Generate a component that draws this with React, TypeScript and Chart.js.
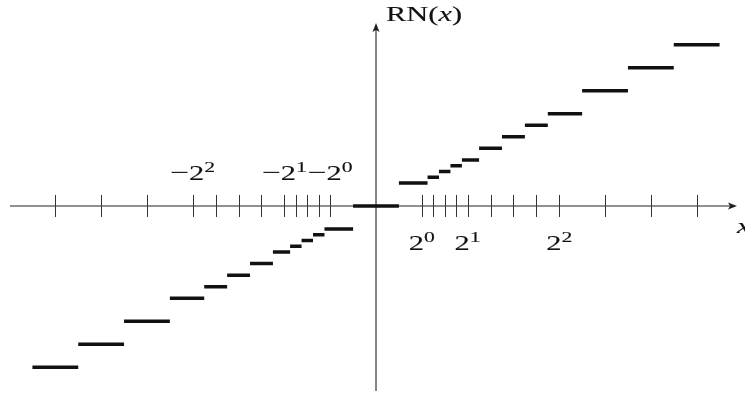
import { useEffect, useRef } from "react";
import { Chart, registerables } from "chart.js";

Chart.register(...registerables);

// Positive representable floating-point numbers (3-bit significand)
const positiveFloats = [1, 1.25, 1.5, 1.75, 2, 2.5, 3, 3.5, 4, 5, 6, 7];
// Round-to-nearest switching points between consecutive floats (0.5 = between 0 and 1)
const roundingBreaks = [0.5, 1.125, 1.375, 1.625, 1.875, 2.25, 2.75, 3.25, 3.75, 4.5, 5.5, 6.5, 7.5];
// Interval rounded to zero
const zeroInterval = [-0.5, 0.5];
// Exponents of labelled powers of two
const labelledExponents = [0, 1, 2];

const X_MIN = -8.208;
const X_MAX = 8.055;
const Y_MIN = -8.113;
const Y_MAX = 8.937;

const SX = 1.45; // horizontal stretch of the text, as in the reference
const SERIF = '"Liberation Serif", "DejaVu Serif", serif';

type Piece = { text: string; size: number; raise?: number; italic?: boolean };

function drawPieces(ctx: CanvasRenderingContext2D, pieces: Piece[], x: number, baseline: number, align: "center" | "left") {
  let total = 0;
  const widths: number[] = [];
  for (const p of pieces) {
    ctx.font = `${p.italic ? "italic " : ""}${p.size}px ${SERIF}`;
    const w = ctx.measureText(p.text).width;
    widths.push(w);
    total += w;
  }
  const start = align === "center" ? x - (total * SX) / 2 : x;
  ctx.save();
  ctx.translate(start, baseline);
  ctx.scale(SX, 1);
  ctx.fillStyle = "#111";
  ctx.strokeStyle = "#111";
  ctx.lineWidth = 0.12;
  ctx.textBaseline = "alphabetic";
  ctx.textAlign = "left";
  let cx = 0;
  pieces.forEach((p, i) => {
    ctx.font = `${p.italic ? "italic " : ""}${p.size}px ${SERIF}`;
    ctx.fillText(p.text, cx, -(p.raise || 0));
    ctx.strokeText(p.text, cx, -(p.raise || 0));
    cx += widths[i];
  });
  ctx.restore();
}

const axesPlugin = {
  id: "centredAxes",
  beforeDatasetsDraw(chart: any) {
    const { ctx, scales } = chart;
    const xs = scales.x;
    const ys = scales.y;
    const x0 = xs.getPixelForValue(0);
    const y0 = ys.getPixelForValue(0);
    ctx.save();
    ctx.strokeStyle = "#222";
    ctx.fillStyle = "#222";
    ctx.lineWidth = 1.1;
    // horizontal axis
    ctx.beginPath();
    ctx.moveTo(10, y0);
    ctx.lineTo(730, y0);
    ctx.stroke();
    ctx.beginPath();
    ctx.moveTo(737, y0);
    ctx.lineTo(728, y0 - 3.5);
    ctx.lineTo(730, y0);
    ctx.lineTo(728, y0 + 3.5);
    ctx.closePath();
    ctx.fill();
    // vertical axis
    ctx.beginPath();
    ctx.moveTo(x0, 391);
    ctx.lineTo(x0, 30);
    ctx.stroke();
    ctx.beginPath();
    ctx.moveTo(x0, 23);
    ctx.lineTo(x0 - 3.5, 32);
    ctx.lineTo(x0, 30);
    ctx.lineTo(x0 + 3.5, 32);
    ctx.closePath();
    ctx.fill();
    // tick marks at every representable number
    ctx.strokeStyle = "#333";
    ctx.lineWidth = 1;
    for (const v of positiveFloats) {
      for (const s of [1, -1]) {
        const px = Math.round(xs.getPixelForValue(s * v)) + 0.5;
        ctx.beginPath();
        ctx.moveTo(px, y0 - 11);
        ctx.lineTo(px, y0 + 11);
        ctx.stroke();
      }
    }
    ctx.restore();
  },
  afterDatasetsDraw(chart: any) {
    const { ctx, scales } = chart;
    const xs = scales.x;
    const ys = scales.y;
    const x0 = xs.getPixelForValue(0);
    const y0 = ys.getPixelForValue(0);
    for (const k of labelledExponents) {
      const v = Math.pow(2, k);
      drawPieces(
        ctx,
        [
          { text: "2", size: 21 },
          { text: String(k), size: 15, raise: 8 },
        ],
        xs.getPixelForValue(v),
        y0 + 44,
        "center"
      );
      drawPieces(
        ctx,
        [
          { text: "\u2212", size: 23 },
          { text: "2", size: 21 },
          { text: String(k), size: 15, raise: 8 },
        ],
        xs.getPixelForValue(-v),
        y0 - 26,
        "center"
      );
    }
    // axis names
    drawPieces(
      ctx,
      [
        { text: "RN(", size: 21 },
        { text: "x", size: 21, italic: true },
        { text: ")", size: 21 },
      ],
      x0 + 10,
      21,
      "left"
    );
    drawPieces(ctx, [{ text: "x", size: 21, italic: true }], 737, y0 + 27, "left");
  },
};

export default function App() {
  const ref = useRef<HTMLCanvasElement>(null);
  useEffect(() => {
    const pts: { x: number; y: number | null }[] = [];
    // negative steps (mirror), from far left to near zero
    for (let i = positiveFloats.length - 1; i >= 0; i--) {
      const v = -positiveFloats[i];
      pts.push({ x: -roundingBreaks[i + 1], y: v });
      pts.push({ x: -roundingBreaks[i], y: v });
      pts.push({ x: -roundingBreaks[i], y: null });
    }
    pts.push({ x: zeroInterval[0], y: 0 });
    pts.push({ x: zeroInterval[1], y: 0 });
    pts.push({ x: zeroInterval[1], y: null });
    positiveFloats.forEach((v, i) => {
      pts.push({ x: roundingBreaks[i], y: v });
      pts.push({ x: roundingBreaks[i + 1], y: v });
      pts.push({ x: roundingBreaks[i + 1], y: null });
    });

    const chart = new Chart(ref.current!, {
      type: "line",
      data: {
        datasets: [
          {
            data: pts as any,
            borderColor: "#111",
            borderWidth: 3.5,
            borderCapStyle: "butt",
            pointRadius: 0,
            spanGaps: false,
            fill: false,
            tension: 0,
          },
        ],
      },
      options: {
        responsive: true,
        maintainAspectRatio: false,
        animation: false,
        events: [],
        layout: { padding: 0 },
        plugins: { legend: { display: false }, tooltip: { enabled: false } },
        scales: {
          x: { type: "linear", min: X_MIN, max: X_MAX, display: false },
          y: { type: "linear", min: Y_MIN, max: Y_MAX, display: false },
        },
      },
      plugins: [axesPlugin],
    });
    return () => chart.destroy();
  }, []);
  return (
    <div style={{ position: "fixed", left: 0, top: 0, width: 745, height: 393, background: "#fff" }}>
      <canvas ref={ref} />
    </div>
  );
}
